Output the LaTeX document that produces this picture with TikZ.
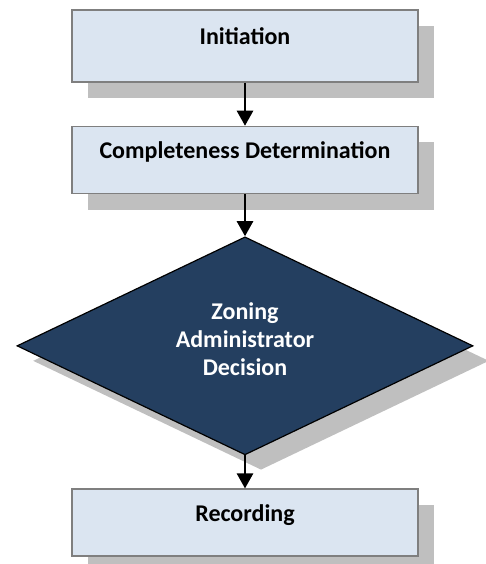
\documentclass[tikz,border=0pt]{standalone}
\usepackage{fontspec}
\setmainfont{Carlito}
\usepackage{tikz}
\usetikzlibrary{shapes.geometric,arrows.meta,positioning,shadows}
\definecolor{boxfill}{HTML}{DBE5F1}
\definecolor{boxline}{HTML}{7F7F7F}
\definecolor{shadowgray}{HTML}{BFBFBF}
\definecolor{decisionfill}{HTML}{243F60}

\begin{document}
\begin{tikzpicture}[
    x=1pt, y=1pt,
    node distance=43pt,
    stepbox/.style={rectangle, draw=boxline, line width=1.5pt, fill=boxfill,
        minimum width=346pt, minimum height=67pt, text height=16pt, text depth=19pt,
        font=\fontsize{24}{28}\selectfont\bfseries,
        drop shadow={shadow xshift=16pt, shadow yshift=-16pt, fill=shadowgray, opacity=1}},
    decision/.style={diamond, draw=black, line width=1.2pt, fill=decisionfill,
        aspect=2.1, minimum width=456pt, minimum height=218pt, inner sep=0pt,
        text=white, align=center, text depth=13pt, font=\fontsize{24}{28}\selectfont\bfseries,
        drop shadow={shadow xshift=16pt, shadow yshift=-15pt, fill=shadowgray, opacity=1}},
    myedge/.style={-{Triangle[width=16pt,length=15pt]}, line width=2.5pt}
]
\useasboundingbox (0,0) rectangle (486,-564);

\node[stepbox, minimum height=72pt] (init) at (245,-46) {Initiation};
\node[stepbox] (complete) [below=of init] {Completeness Determination};
\node[decision] (decide) [below=42pt of complete] {Zoning\\Administrator\\Decision};
\node[stepbox] (record) [below=33pt of decide] {Recording};

\draw[myedge] (init) -- (complete);
\draw[myedge] (complete) -- (decide);
\draw[myedge] (decide) -- (record);
\end{tikzpicture}
\end{document}
